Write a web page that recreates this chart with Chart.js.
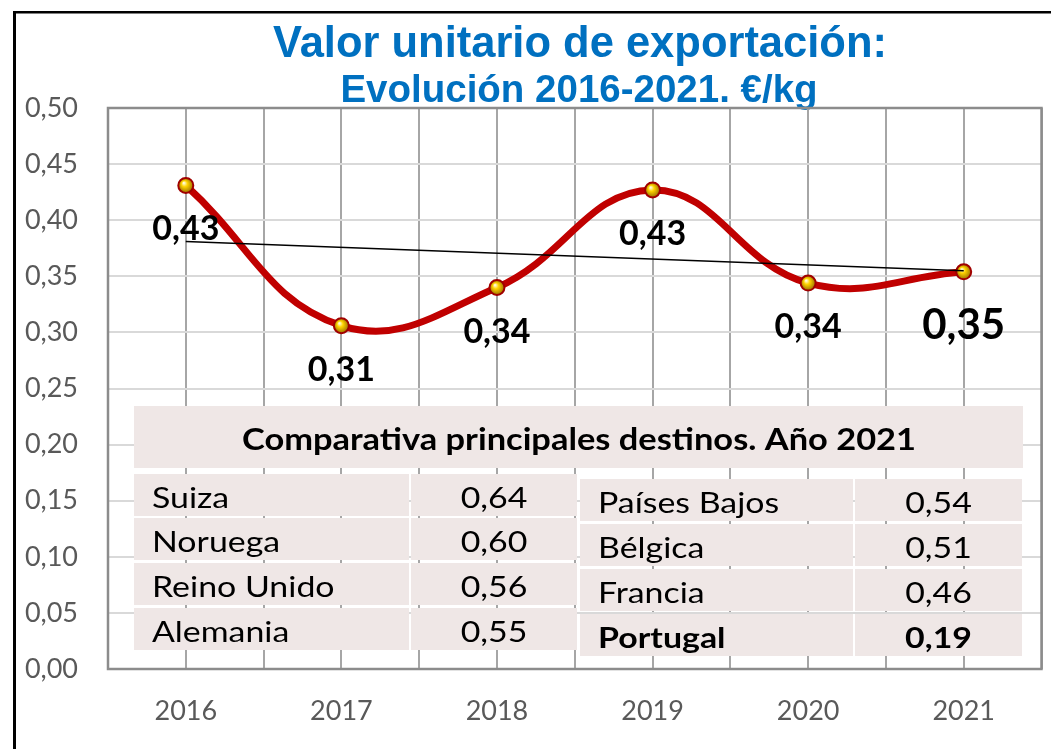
<!DOCTYPE html>
<html><head><meta charset="utf-8">
<script src="https://cdn.jsdelivr.net/npm/chart.js@4.4.1/dist/chart.umd.min.js"></script>
<style>html,body{margin:0;padding:0;background:#fff;overflow:hidden}
#wrap{position:relative;width:1051px;height:749px}
canvas{position:absolute;left:0;top:0}
</style></head><body><div id="wrap"><canvas id="c" width="1051" height="749"></canvas></div>
<script>
// ---- data ----
const years = ['2016', '2017', '2018', '2019', '2020', '2021'];
const unitValues = [0.431, 0.306, 0.340, 0.427, 0.344, 0.354];
const trendStart = 0.381;   // trend line value at 2016
const trendEnd = 0.355;     // trend line value at 2021
const yMin = 0, yMax = 0.5, yStep = 0.05;
const titleText = 'Valor unitario de exportación:';
const subtitleText = 'Evolución 2016-2021. €/kg';
const tableTitle = 'Comparativa principales destinos. Año 2021';
const leftCountries = ['Suiza', 'Noruega', 'Reino Unido', 'Alemania'];
const leftValues = [0.64, 0.60, 0.56, 0.55];
const rightCountries = ['Países Bajos', 'Bélgica', 'Francia', 'Portugal'];
const rightValues = [0.54, 0.51, 0.46, 0.19];
const boldCountry = 'Portugal';

const fmt = v => v.toFixed(2).replace('.', ',');
const FONT = 'Lato, "Open Sans", sans-serif';

const decor = {
  id: 'decor',
  beforeDraw(chart) {
    const c = chart.ctx;
    c.save();
    c.fillStyle = '#fff';
    c.fillRect(0, 0, chart.width, chart.height);
    // outer frame
    c.fillStyle = '#000';
    c.fillRect(13, 11, 3, 800);
    c.fillRect(13, 11, 1100, 2.5);
    // titles
    c.fillStyle = '#0070C0';
    c.textAlign = 'center';
    c.textBaseline = 'alphabetic';
    c.font = 'bold 43.5px "Liberation Sans", Arial, sans-serif';
    c.fillText(titleText, 580, 57);
    c.font = 'bold 38.5px "Liberation Sans", Arial, sans-serif';
    c.fillText(subtitleText, 579, 102);
    c.restore();
  },
  beforeDatasetsDraw(chart) {
    const c = chart.ctx, a = chart.chartArea;
    c.save();
    // plot frame
    c.strokeStyle = '#8c8c8c';
    c.lineWidth = 2.5;
    c.strokeRect(a.left, a.top, a.right - a.left, a.bottom - a.top);
    // table
    const bg = '#efe7e6';
    c.fillStyle = bg;
    c.fillRect(134, 406, 889, 62);
    const drawSide = (names, vals, x0, xm, x1, rowTops, nameX) => {
      for (let i = 0; i < names.length; i++) {
        const t = rowTops[i];
        c.fillStyle = bg;
        c.fillRect(x0, t, xm - x0, 42);
        c.fillRect(xm + 2, t, x1 - xm - 2, 42);
        const bold = names[i] === boldCountry;
        c.fillStyle = '#000';
        c.font = (bold ? 'bold ' : '') + '28px ' + FONT;
        c.textBaseline = 'alphabetic';
        c.save();
        c.translate(nameX, t + 34);
        c.scale(1.21, 1);
        c.textAlign = 'left';
        c.fillText(names[i], 0, 0);
        c.restore();
        c.save();
        c.translate((xm + 2 + x1) / 2, t + 34);
        c.scale(1.21, 1);
        c.textAlign = 'center';
        c.fillText(fmt(vals[i]), 0, 0);
        c.restore();
      }
    };
    drawSide(leftCountries, leftValues, 134, 409, 577, [474, 518, 563, 608], 152);
    drawSide(rightCountries, rightValues, 580, 853, 1022, [479, 524, 569, 614], 598);
    c.fillStyle = '#000';
    c.font = 'bold 31px ' + FONT;
    c.textAlign = 'center';
    c.save();
    c.translate(579, 450);
    c.scale(1.11, 1);
    c.fillText(tableTitle, 0, 0);
    c.restore();
    c.restore();
  },
  afterDatasetsDraw(chart) {
    const c = chart.ctx;
    const meta = chart.getDatasetMeta(1);
    c.save();
    c.fillStyle = '#000';
    c.textAlign = 'center';
    c.textBaseline = 'alphabetic';
    meta.data.forEach((pt, i) => {
      const last = i === meta.data.length - 1;
      c.font = 'bold ' + (last ? 42 : 34) + 'px ' + FONT;
      c.fillText(fmt(unitValues[i]), pt.x, pt.y + (last ? 67 : 55));
    });
    c.restore();
  }
};

const pointFill = (ctx) => {
  if (ctx.type !== 'data') return '#f2c200';
  const ch = ctx.chart;
  const px = ch.scales.x.getPixelForValue(ctx.dataIndex);
  const py = ch.scales.y.getPixelForValue(ctx.parsed.y);
  if (!isFinite(px) || !isFinite(py)) return '#f2c200';
  const g = ch.ctx.createRadialGradient(px - 2, py - 2.5, 0.5, px, py, 7.5);
  g.addColorStop(0, '#fffbe0');
  g.addColorStop(0.35, '#ffd400');
  g.addColorStop(1, '#9a6e00');
  return g;
};

new Chart(document.getElementById('c'), {
  type: 'line',
  data: {
    labels: years,
    datasets: [
      {
        label: 'Tendencia',
        data: [{x: years[0], y: trendStart}, {x: years[years.length - 1], y: trendEnd}],
        borderColor: '#000',
        borderWidth: 1.6,
        pointRadius: 0,
        tension: 0,
        order: 0,
        xAxisID: 'x'
      },
      {
        label: 'Valor unitario',
        data: unitValues,
        borderColor: '#C00000',
        borderWidth: 7,
        tension: 0.42,
        pointRadius: 7.5,
        pointBorderColor: '#a00000',
        pointBorderWidth: 2,
        pointBackgroundColor: pointFill,
        order: 1,
        xAxisID: 'x'
      }
    ]
  },
  options: {
    responsive: false,
    animation: false,
    devicePixelRatio: 1,
    layout: {padding: {left: 0, top: 108, right: 8, bottom: 0}},
    plugins: {legend: {display: false}, tooltip: {enabled: false}, title: {display: false}},
    scales: {
      x: {
        type: 'category',
        offset: true,
        grid: {offset: false, color: '#a6a6a6', lineWidth: 2, drawTicks: false},
        border: {display: false},
        ticks: {color: '#595959', font: {family: FONT, size: 27}, padding: 26, maxRotation: 0},
        afterFit: s => { s.height = 80; }
      },
      x2: {
        type: 'category',
        position: 'bottom',
        offset: true,
        grid: {offset: true, color: '#a6a6a6', lineWidth: 2, drawTicks: false},
        border: {display: false},
        ticks: {display: false},
        afterFit: s => { s.height = 0; }
      },
      y: {
        min: yMin, max: yMax,
        grid: {color: '#d9d9d9', lineWidth: 2, drawTicks: false},
        border: {display: false},
        ticks: {stepSize: yStep, color: '#595959', font: {family: FONT, size: 27}, padding: 30,
                callback: v => fmt(v)},
        afterFit: s => { s.width = 108; }
      }
    }
  },
  plugins: [decor]
});
</script></body></html>
